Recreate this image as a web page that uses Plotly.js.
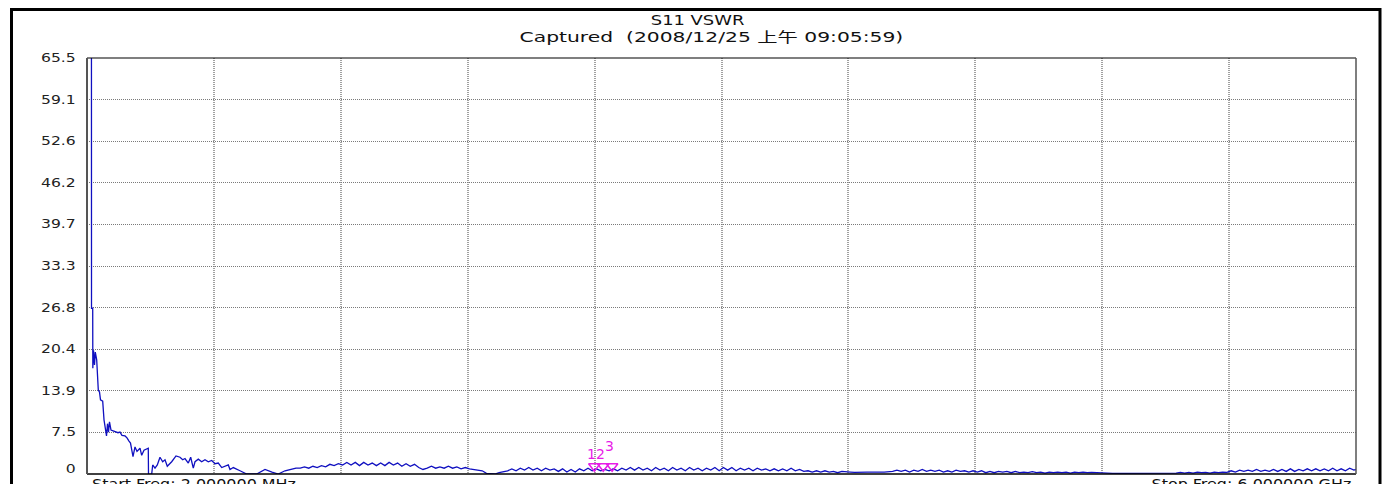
<!DOCTYPE html>
<html>
<head>
<meta charset="utf-8">
<script src="https://cdn.plot.ly/plotly-3.0.1.min.js"></script>
<style>html,body{margin:0;padding:0;background:#fff;}#chart{width:1390px;height:484px;}</style>
</head>
<body>
<div id="chart"></div>
<script>
// ---- Data ----
const chartTitle = 'S11 VSWR';
const chartSubtitle = 'Captured  (2008/12/25 上午 09:05:59)';
const startLabel = 'Start Freq: 2.000000 MHz';
const stopLabel = 'Stop Freq: 6.000000 GHz';

const freqStartMHz = 2;
const freqStopMHz = 6000;
const vswrMin = 1;
const vswrMax = 65.5;

const yTickText = ['0', '7.5', '13.9', '20.4', '26.8', '33.3', '39.7', '46.2', '52.6', '59.1', '65.5'];

// Sweep: frequency (MHz)
const freqMHz = [
  2, 23, 23.3, 29, 29.5, 32.7, 37.4, 41.2, 47.8, 55.4,
  61.1, 65.8, 76.2, 82.4, 94.2, 98.9, 103.6, 108.3, 115.4, 124.9,
  134.3, 148.5, 158, 167.4, 181.6, 191.1, 200.5, 207.6, 219.4, 228.9,
  238.3, 252.5, 260.5, 271.4, 291.7, 292.7, 307.8, 312.5, 323.4, 334.3,
  347, 359.8, 370.7, 381.5, 402.3, 422.7, 441.6, 454.3, 465.2, 480.8,
  492.1, 504.4, 512.5, 528.1, 544.1, 559.7, 575.3, 591.4, 607, 622.6,
  638.7, 654.3, 669.9, 677.9, 693.5, 725.2, 756.8, 804.1, 843.3, 876.4,
  906.2, 937.9, 969.5, 990,
  1010, 1030, 1050, 1070, 1090, 1110, 1130, 1150, 1170, 1190,
  1210, 1230, 1250, 1270, 1290, 1310, 1330, 1350, 1370, 1390,
  1410, 1430, 1450, 1470, 1490, 1510, 1530, 1550, 1570, 1590,
  1610, 1630, 1650, 1670, 1690, 1710, 1730, 1750, 1770, 1790,
  1810, 1830, 1850, 1870, 1890, 1910, 1930, 1950, 1970, 1990,
  2010, 2030, 2050, 2070, 2090, 2110, 2130, 2150, 2170, 2190,
  2210, 2230, 2250, 2270, 2290, 2310, 2330, 2350, 2370, 2390,
  2410, 2430, 2450, 2470, 2490, 2510, 2530, 2550, 2570, 2590,
  2610, 2630, 2650, 2670, 2690, 2710, 2730, 2750, 2770, 2790,
  2810, 2830, 2850, 2870, 2890, 2910, 2930, 2950, 2970, 2990,
  3010, 3030, 3050, 3070, 3090, 3110, 3130, 3150, 3170, 3190,
  3210, 3230, 3250, 3270, 3290, 3310, 3330, 3350, 3370, 3390,
  3410, 3430, 3450, 3470, 3490, 3510, 3530, 3550, 3570, 3590,
  3610, 3630, 3650, 3670, 3690, 3710, 3730, 3750, 3770, 3790,
  3810, 3830, 3850, 3870, 3890, 3910, 3930, 3950, 3970, 3990,
  4010, 4030, 4050, 4070, 4090, 4110, 4130, 4150, 4170, 4190,
  4210, 4230, 4250, 4270, 4290, 4310, 4330, 4350, 4370, 4390,
  4410, 4430, 4450, 4470, 4490, 4510, 4530, 4550, 4570, 4590,
  4610, 4630, 4650, 4670, 4690, 4710, 4730, 4750, 4770, 4790,
  4810, 4830, 4850, 4870, 4890, 4910, 4930, 4950, 4970, 4990,
  5010, 5030, 5050, 5070, 5090, 5110, 5130, 5150, 5170, 5190,
  5210, 5230, 5250, 5270, 5290, 5310, 5330, 5350, 5370, 5390,
  5410, 5430, 5450, 5470, 5490, 5510, 5530, 5550, 5570, 5590,
  5610, 5630, 5650, 5670, 5690, 5710, 5730, 5750, 5770, 5790,
  5810, 5830, 5850, 5870, 5890, 5910, 5930, 5950, 5970, 5990,
  6000
];

// Sweep: VSWR
const vswr = [
  70, 70, 26.7, 26.7, 17.4, 20.2, 17.9, 19.9, 18.7, 14.0,
  13.7, 12.5, 12.3, 9.4, 6.9, 8.8, 7.5, 9.1, 7.8, 7.7,
  7.5, 7.4, 7.5, 7.0, 6.9, 6.6, 6.1, 5.8, 3.7, 5.2,
  4.5, 5.0, 3.9, 4.7, 5.0, 0.9, 1.0, 2.4, 1.9, 2.4,
  3.6, 2.9, 3.2, 2.2, 2.9, 3.8, 3.6, 3.2, 3.4, 2.7,
  3.6, 1.9, 2.9, 3.3, 2.9, 3.2, 2.9, 3.1, 2.6, 2.7,
  2.0, 2.2, 2.4, 1.7, 2.0, 1.5, 1.0, 1.0, 1.7, 1.3,
  1.0, 1.5, 1.8, 1.9,
  1.9, 2.1, 1.9, 2.2, 2.0, 2.3, 2.1, 2.5, 2.3, 2.6,
  2.4, 2.8, 2.4, 2.8, 2.3, 2.8, 2.4, 2.7, 2.3, 2.7,
  2.3, 2.8, 2.4, 2.7, 2.2, 2.6, 2.2, 2.5, 2.0, 1.7,
  1.9, 2.2, 1.9, 2.1, 1.9, 2.2, 1.9, 2.1, 1.8, 2.0,
  1.8, 1.7, 1.5, 1.5, 1.1, 1.0, 1.0, 1.2, 1.3, 1.5,
  1.8, 1.5, 1.9, 1.6, 2.0, 1.6, 1.9, 1.5, 1.9, 1.6,
  1.8, 1.4, 1.8, 1.3, 1.7, 1.3, 1.8, 1.5, 1.9, 1.5,
  1.8, 1.5, 1.7, 1.5, 1.8, 1.5, 1.9, 1.6, 2.0, 1.6,
  2.0, 1.6, 1.9, 1.5, 2.0, 1.6, 1.9, 1.5, 2.0, 1.6,
  1.9, 1.5, 2.0, 1.6, 1.9, 1.5, 1.9, 1.6, 2.0, 1.5,
  2.0, 1.6, 2.0, 1.5, 1.9, 1.6, 1.9, 1.5, 1.9, 1.6,
  1.8, 1.5, 1.8, 1.5, 1.8, 1.5, 1.9, 1.5, 1.7, 1.4,
  1.5, 1.3, 1.5, 1.3, 1.5, 1.3, 1.4, 1.2, 1.4, 1.3,
  1.3, 1.25, 1.3, 1.25, 1.3, 1.3, 1.25, 1.3, 1.3, 1.35,
  1.4, 1.6, 1.4, 1.6, 1.3, 1.6, 1.4, 1.7, 1.4, 1.6,
  1.4, 1.6, 1.3, 1.5, 1.3, 1.6, 1.4, 1.5, 1.3, 1.5,
  1.3, 1.5, 1.2, 1.4, 1.2, 1.4, 1.3, 1.4, 1.2, 1.4,
  1.2, 1.3, 1.2, 1.35, 1.2, 1.3, 1.15, 1.3, 1.2, 1.3,
  1.2, 1.3, 1.15, 1.3, 1.2, 1.3, 1.2, 1.25, 1.2, 1.2,
  1.1, 1.1, 1.1, 1.1, 1.1, 1.1, 1.1, 1.1, 1.1, 1.1,
  1.1, 1.1, 1.1, 1.1, 1.1, 1.15, 1.2, 1.15, 1.25, 1.15,
  1.25, 1.15, 1.3, 1.2, 1.25, 1.15, 1.3, 1.2, 1.3, 1.25,
  1.5, 1.3, 1.6, 1.4, 1.6, 1.4, 1.7, 1.4, 1.6, 1.4,
  1.7, 1.4, 1.7, 1.4, 1.8, 1.4, 1.7, 1.5, 1.8, 1.5,
  1.8, 1.5, 1.8, 1.5, 1.9, 1.5, 1.8, 1.5, 1.9, 1.6,
  1.7
];

// Markers
const markerLabels = ['1', '2', '3'];
const markerFreqMHz = [2400, 2442, 2484];
const markerVswr = [2.2, 2.2, 2.2];

// ---- Styling / layout ----
const W = 1390, H = 484;
const M = {l: 87, r: 34, t: 58, b: 10};
const pw = W - M.l - M.r, ph = H - M.t - M.b;
const px = v => (v - M.l) / pw;          // pixel x -> paper x
const py = v => (H - M.b - v) / ph;      // pixel y -> paper y

const nDiv = 10;
const xGrid = [], yGrid = [];
for (let k = 0; k <= nDiv; k++) {
  xGrid.push(freqStartMHz + k * (freqStopMHz - freqStartMHz) / nDiv);
  yGrid.push(vswrMin + k * (vswrMax - vswrMin) / nDiv);
}

const magenta = '#e81ce8';
const textFont = 'DejaVu Sans, Liberation Sans, Noto Sans CJK SC, sans-serif';

const traces = [
  {
    x: freqMHz, y: vswr, type: 'scatter', mode: 'lines',
    line: {color: '#1010c0', width: 1.3}, hoverinfo: 'skip'
  },
  {
    x: markerFreqMHz, y: markerVswr, type: 'scatter', mode: 'markers',
    marker: {symbol: 'triangle-down-open', size: 10, color: magenta, line: {color: magenta, width: 1.5}},
    hoverinfo: 'skip', cliponaxis: false
  }
];

// annotations with a horizontal stretch factor (the reference text is wide)
const annotations = [];
const stretch = [];
function addAnn(a, sx, origin) { annotations.push(a); stretch.push([sx, origin]); }

addAnn({text: chartTitle, xref: 'paper', yref: 'paper', x: px(697), y: py(20), xanchor: 'center', yanchor: 'middle', showarrow: false,
  font: {family: textFont, size: 14, color: '#111'}}, 1.28, '50% 50%');
addAnn({text: chartSubtitle, xref: 'paper', yref: 'paper', x: px(711), y: py(37), xanchor: 'center', yanchor: 'middle', showarrow: false,
  font: {family: textFont, size: 14, color: '#111'}}, 1.45, '50% 50%');
addAnn({text: startLabel, xref: 'paper', yref: 'paper', x: px(90), y: py(483.5), xanchor: 'left', yanchor: 'middle', showarrow: false,
  font: {family: textFont, size: 14, color: '#111'}}, 1.14, '0% 50%');
addAnn({text: stopLabel, xref: 'paper', yref: 'paper', x: px(1353), y: py(483.5), xanchor: 'right', yanchor: 'middle', showarrow: false,
  font: {family: textFont, size: 14, color: '#111'}}, 1.14, '100% 50%');
// y tick labels
yGrid.forEach((v, k) => {
  addAnn({text: yTickText[k], xref: 'paper', yref: k === 0 ? 'paper' : 'y', x: px(78), y: k === 0 ? py(469) : v,
    xanchor: 'right', yanchor: 'middle', showarrow: false,
    font: {family: textFont, size: 12, color: '#222'}}, 1.3, '100% 50%');
});
// marker labels
markerLabels.forEach((lab, i) => {
  addAnn({text: lab, x: markerFreqMHz[i], y: markerVswr[i], xref: 'x', yref: 'y',
    xshift: -3, yshift: i === 2 ? 20 : 12, showarrow: false, xanchor: 'center', yanchor: 'middle',
    font: {family: textFont, size: 14, color: magenta}}, 1.0, '50% 50%');
});

const shapes = [
  // outer frame
  {type: 'rect', xref: 'paper', yref: 'paper', x0: px(11.5), x1: px(1380), y0: py(495), y1: py(9.5),
   line: {color: '#000', width: 3}, fillcolor: 'rgba(0,0,0,0)', layer: 'above'},
  // plot box
  {type: 'line', xref: 'paper', yref: 'paper', x0: 0, x1: 1, y0: 1, y1: 1, line: {color: '#000', width: 1.2}},
  {type: 'line', xref: 'paper', yref: 'paper', x0: 0, x1: 1, y0: 0, y1: 0, line: {color: '#000', width: 1.5}},
  {type: 'line', xref: 'paper', yref: 'paper', x0: 0, x1: 0, y0: 0, y1: 1, line: {color: '#555', width: 2}},
  {type: 'line', xref: 'paper', yref: 'paper', x0: 1, x1: 1, y0: 0, y1: 1, line: {color: '#555', width: 1.5}}
];

const layout = {
  width: W, height: H, margin: M,
  paper_bgcolor: '#fff', plot_bgcolor: '#fff', showlegend: false,
  xaxis: {
    range: [freqStartMHz, freqStopMHz], tickvals: xGrid, showticklabels: false, ticks: '',
    showgrid: true, gridcolor: '#a0a0a0', griddash: '1px,1px', gridwidth: 2,
    zeroline: false, showline: false, fixedrange: true
  },
  yaxis: {
    range: [vswrMin, vswrMax], tickvals: yGrid, showticklabels: false, ticks: '',
    showgrid: true, gridcolor: '#7a7a7a', griddash: '1px,1px', gridwidth: 1,
    zeroline: false, showline: false, fixedrange: true
  },
  annotations: annotations,
  shapes: shapes
};

Plotly.newPlot('chart', traces, layout, {staticPlot: true, displayModeBar: false}).then(gd => {
  const anns = gd.querySelectorAll('.annotation');
  anns.forEach(g => {
    const idx = +g.getAttribute('data-index');
    const s = stretch[idx];
    const t = g.querySelector('text.annotation-text');
    if (!s || !t || s[0] === 1) return;
    t.style.transformBox = 'fill-box';
    t.style.transformOrigin = s[1];
    t.style.transform = 'scaleX(' + s[0] + ')';
  });
});
</script>
</body>
</html>
